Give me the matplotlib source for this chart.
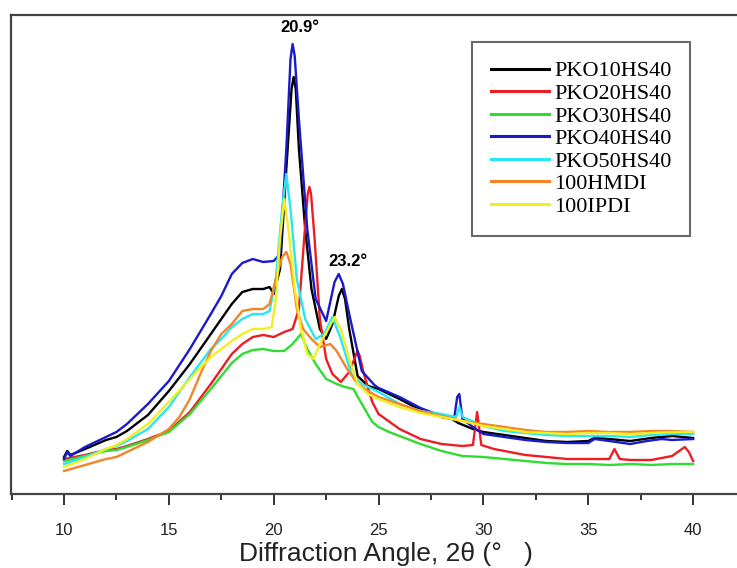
import matplotlib
matplotlib.use('Agg')
import matplotlib.pyplot as plt
from matplotlib.ticker import MultipleLocator

# XRD patterns, intensity in arbitrary units
x_black = [10, 10.15, 10.3, 11, 12, 12.5, 13, 14, 15, 16, 17, 17.5, 18, 18.5, 19, 19.5, 19.8, 20.0,
           20.3, 20.6, 20.85, 20.95, 21.05, 21.2, 21.5, 21.8, 22.2, 22.5, 22.8, 23.1, 23.25, 23.4,
           23.6, 24.0, 24.5, 25, 26, 27, 28, 28.5, 28.8, 29.5, 30, 31, 32, 33, 34, 35, 35.3, 36,
           37, 38, 39, 39.5, 40]
y_black = [37, 43, 39, 45, 54, 57, 63, 79, 103, 130, 160, 175, 190, 202, 205, 205, 207, 200,
           225, 325, 405, 417, 405, 345, 265, 205, 165, 155, 170, 198, 205, 195,
           165, 118, 108, 105, 95, 84, 77, 75, 71, 65, 62, 59, 56, 53, 52, 53, 56, 55,
           53, 56, 58, 57, 56]

x_red = [10, 11, 12, 12.5, 13, 14, 15, 16, 17, 17.5, 18, 18.5, 19, 19.5, 20, 20.5, 20.9, 21.2,
         21.45, 21.62, 21.7, 21.78, 21.95, 22.2, 22.5, 22.8, 23.2, 23.6, 23.9, 24.0, 24.1, 24.3,
         24.7, 25, 26, 27, 28, 29, 29.5, 29.7, 29.9, 30.5, 31, 32, 33, 34, 35, 36, 36.25, 36.5,
         37, 38, 39, 39.6, 39.8, 40]
y_red = [35, 39, 44, 45, 48, 55, 63, 82, 110, 125, 140, 150, 157, 159, 157, 162, 165, 185,
         255, 300, 307, 300, 255, 175, 135, 120, 112, 122, 138, 143, 138, 120,
         92, 80, 65, 55, 50, 48, 49, 82, 49, 45, 43, 39, 37, 35, 35, 35, 45, 35,
         34, 34, 38, 47, 42, 33]

x_green = [10, 11, 12, 12.5, 13, 14, 15, 16, 17, 17.5, 18, 18.5, 19, 19.5, 20, 20.5, 20.9, 21.3,
           21.6, 22.0, 22.5, 23.0, 23.4, 23.8, 24.2, 24.7, 25, 25.5, 26, 27, 28, 29, 30, 31, 32,
           33, 34, 35, 36, 37, 38, 39, 40]
y_green = [33, 38, 43, 44, 47, 54, 62, 80, 105, 118, 131, 140, 144, 145, 143, 143, 150, 160,
           145, 130, 115, 110, 107, 105, 90, 72, 67, 62, 58, 50, 43, 38, 37, 35, 33,
           31, 30, 30, 29, 30, 29, 30, 30]

x_blue = [10, 10.15, 10.3, 11, 12, 12.5, 13, 14, 15, 16, 17, 17.5, 18, 18.5, 19, 19.5, 20, 20.3,
          20.6, 20.8, 20.9, 21.0, 21.2, 21.6, 22.0, 22.5, 22.9, 23.1, 23.3, 23.6, 24.2, 24.8, 25,
          26, 27, 28, 28.6, 28.75, 28.85, 29.0, 29.5, 30, 31, 32, 33, 34, 35, 35.3, 36, 37, 37.8,
          38.5, 39, 40]
y_blue = [35, 42, 38, 47, 57, 62, 70, 90, 113, 145, 180, 198, 220, 231, 235, 232, 233, 240,
          345, 435, 450, 438, 375, 265, 195, 173, 212, 220, 210, 180, 123, 109, 106,
          97, 86, 78, 75, 97, 100, 75, 67, 60, 57, 54, 52, 51, 51, 55, 53, 50, 53,
          55, 54, 55]

x_cyan = [10, 11, 12, 12.5, 13, 14, 15, 16, 17, 17.5, 18, 18.5, 19, 19.5, 19.8, 20.1, 20.4, 20.6,
          20.8, 21.1, 21.5, 22.0, 22.4, 22.8, 23.2, 23.7, 24.2, 25, 26, 27, 28, 28.7, 28.85,
          29.0, 30, 31, 32, 33, 34, 35, 36, 37, 38, 39, 40]
y_cyan = [30, 37, 45, 48, 53, 65, 87, 117, 145, 155, 167, 175, 180, 180, 183, 215, 285, 320,
          285, 215, 175, 155, 160, 177, 155, 120, 110, 102, 90, 83, 80, 77, 87,
          77, 68, 63, 61, 59, 58, 58, 58, 57, 59, 60, 60]

x_orange = [10, 11, 12, 12.5, 13, 14, 15, 15.5, 16, 16.5, 17, 17.5, 18, 18.5, 19, 19.5, 19.8,
            20.1, 20.4, 20.6, 20.8, 21.1, 21.4, 21.8, 22.2, 22.7, 23.0, 23.5, 24.0, 24.5, 25,
            26, 27, 28, 29, 30, 31, 32, 33, 34, 35, 36, 37, 38, 39, 40]
y_orange = [23, 29, 35, 37, 42, 52, 65, 77, 95, 120, 143, 160, 170, 183, 185, 185, 190,
            215, 237, 242, 230, 185, 165, 155, 147, 150, 143, 125, 110, 103, 97,
            90, 83, 78, 73, 70, 67, 64, 62, 62, 63, 62, 62, 63, 63, 62]

x_yellow = [10, 11, 12, 12.5, 13, 14, 15, 16, 17, 17.5, 18, 18.5, 19, 19.5, 19.9, 20.1, 20.3,
            20.5, 20.7, 21.0, 21.3, 21.6, 21.9, 22.2, 22.6, 22.9, 23.2, 23.6, 24.0, 24.5, 25,
            26, 27, 28, 29, 30, 31, 32, 33, 34, 35, 36, 37, 38, 39, 40]
y_yellow = [27, 35, 45, 49, 55, 70, 92, 115, 137, 145, 153, 160, 165, 165, 167, 195, 255,
            295, 265, 205, 165, 140, 135, 150, 165, 177, 165, 135, 110, 100, 95,
            87, 81, 77, 73, 68, 65, 62, 61, 60, 61, 61, 60, 61, 62, 62]

series = [
    ('PKO10HS40', x_black, y_black, '#000000'),
    ('PKO20HS40', x_red, y_red, '#ec1e24'),
    ('PKO30HS40', x_green, y_green, '#2fdc2f'),
    ('PKO40HS40', x_blue, y_blue, '#1a1acb'),
    ('PKO50HS40', x_cyan, y_cyan, '#28e6f2'),
    ('100HMDI', x_orange, y_orange, '#f38526'),
    ('100IPDI', x_yellow, y_yellow, '#f4ee1e'),
]

fig = plt.figure(figsize=(7.37, 5.68), dpi=100)
# axes run past the right edge of the picture, as in the cropped original
ax = fig.add_axes([11 / 737, 74 / 568, 749 / 737, 479 / 568])

for name, xs, ys, col in series:
    ax.plot(xs, ys, color=col, lw=1.7, label=name)

ax.set_xlim(7.47, 43.19)
ax.set_ylim(0, 479)
ax.set_yticks([])
ax.xaxis.set_major_locator(MultipleLocator(5))
ax.xaxis.set_minor_locator(MultipleLocator(2.5))
ax.tick_params(axis='x', which='major', direction='out', length=8, width=1.4,
               color='#333333', pad=13, labelsize=12)
ax.tick_params(axis='x', which='minor', direction='out', length=4.5, width=1.4, color='#333333')
for lab in ax.get_xticklabels():
    lab.set_fontfamily(['Liberation Sans', 'DejaVu Sans'])
    lab.set_color('#222222')
for sp in ax.spines.values():
    sp.set_color('#444444')
    sp.set_linewidth(1.6)

ax.set_xlabel('Diffraction Angle, 2θ (°   )', fontsize=19, color='#222222',
              family=['Liberation Sans', 'DejaVu Sans'], labelpad=3)

ax.text(21.25, 467, '20.9°', ha='center', va='center', fontsize=12, fontweight='bold',
        family=['Liberation Sans', 'DejaVu Sans'])
ax.text(23.55, 233, '23.2°', ha='center', va='center', fontsize=12, fontweight='bold',
        family=['Liberation Sans', 'DejaVu Sans'])

leg = ax.legend(loc='upper left', bbox_to_anchor=(461 / 749, 452 / 479), borderaxespad=0,
                prop={'family': 'Liberation Serif', 'size': 16}, frameon=True, fancybox=False,
                handlelength=2.6, handletextpad=0.25, labelspacing=0.09, borderpad=0.85)
leg.get_frame().set_edgecolor('#444444')
leg.get_frame().set_linewidth(1.5)
for ln in leg.get_lines():
    ln.set_linewidth(2.2)

fig.savefig('out.png', dpi=100)
